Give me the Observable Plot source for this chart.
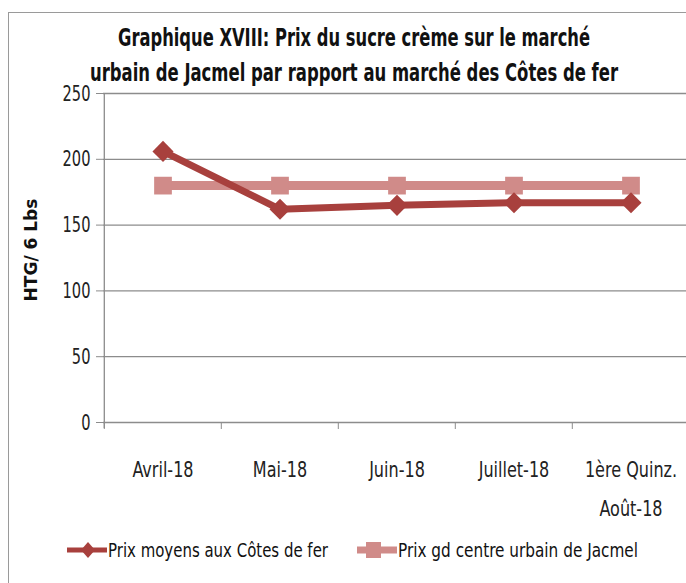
<!DOCTYPE html>
<html><head><meta charset="utf-8">
<script src="https://cdn.jsdelivr.net/npm/d3@7"></script>
<script src="https://cdn.jsdelivr.net/npm/@observablehq/plot@0.6"></script>
<style>
body{margin:0;background:#fff;}
#wrap{position:relative;width:686px;height:583px;overflow:hidden;font-family:"DejaVu Sans Condensed",sans-serif;}
#frame{position:absolute;left:8px;top:12px;width:700px;height:600px;border-left:1.5px solid #9a9a9a;border-top:1.5px solid #9a9a9a;}
.tline{position:absolute;left:354px;white-space:nowrap;font-size:24px;font-weight:bold;color:#111;transform-origin:0 50%;}
#chart{position:absolute;left:0;top:0;}
#ylab{position:absolute;left:31px;top:250px;transform:translate(-50%,-50%) rotate(-90deg);font-family:"DejaVu Sans",sans-serif;font-weight:bold;font-size:17px;white-space:nowrap;color:#111;}
.leg{position:absolute;top:539px;height:22px;display:flex;align-items:center;color:#111;}
.leg span{display:inline-block;font-size:20px;white-space:nowrap;transform-origin:0 50%;}
</style></head>
<body><div id="wrap"><div id="frame"></div><div id="chart"></div>
<div class="tline" id="t1" style="top:24px">Graphique XVIII: Prix du sucre crème sur le marché</div>
<div class="tline" id="t2" style="top:59px">urbain de Jacmel par rapport au marché des Côtes de fer</div>
<div id="ylab">HTG/ 6 Lbs</div>
<div class="leg" id="leg1" style="left:67px"></div>
<div class="leg" id="leg2" style="left:357px"></div>
</div>
<script>
const categories = ["Avril-18","Mai-18","Juin-18","Juillet-18","1ère Quinz.\nAoût-18"];
const cotesDeFer = [206, 162, 165, 167, 167];
const jacmel = [180, 180, 180, 180, 180];
const yTicks = [0, 50, 100, 150, 200, 250];
const seriesNames = ["Prix moyens aux Côtes de fer", "Prix gd centre urbain de Jacmel"];
const colors = ["#a8403d", "#d08b89"];

const dataA = categories.map((c,i)=>({cat:c, v:cotesDeFer[i]}));
const dataB = categories.map((c,i)=>({cat:c, v:jacmel[i]}));
const bw = (690 - 103) / categories.length;

const chart = Plot.plot({
  width: 686, height: 583,
  marginTop: 93, marginBottom: 161, marginLeft: 103, marginRight: 0,
  style: {fontFamily: "'DejaVu Sans Condensed',sans-serif", background: "transparent", overflow: "visible"},
  x: {type: "band", domain: categories, range: [103, 690], padding: 0},
  y: {domain: [0, 250]},
  marks: [
    Plot.ruleY(yTicks, {stroke: "#8c8c8c", strokeWidth: 1.3}),
    Plot.axisY({ticks: yTicks, tickSize: 7, tickPadding: 6, fontSize: 22, stroke: "#8c8c8c", color: "#222", label: null}),
    Plot.ruleX([categories[0]], {dx: -bw / 2, y1: 250, y2: -4.5, stroke: "#8c8c8c", strokeWidth: 1.3}),
    Plot.axisX({tickSize: 7, tickFormat: () => "", dx: -bw / 2, stroke: "#8c8c8c", label: null}),
    Plot.axisX({tickSize: 0, tickPadding: 27, fontSize: 21, lineHeight: 1.85, color: "#222", label: null}),
    Plot.line(dataB, {x: "cat", y: "v", stroke: colors[1], strokeWidth: 9, style: {filter: "drop-shadow(2px 3px 2px rgba(0,0,0,0.25))"}}),
    Plot.dot(dataB, {x: "cat", y: "v", symbol: "square", r: 10, fill: colors[1], stroke: "none"}),
    Plot.line(dataA, {x: "cat", y: "v", stroke: colors[0], strokeWidth: 7, style: {filter: "drop-shadow(2px 3px 2px rgba(0,0,0,0.25))"}}),
    Plot.dot(dataA, {x: "cat", y: "v", symbol: "diamond2", r: 9.5, fill: colors[0], stroke: "none"})
  ]
});
document.getElementById("chart").appendChild(chart);

// narrow the glyphs horizontally to mimic the condensed reference font
function squeeze(sel, sx){
  chart.querySelectorAll(sel).forEach(t => {
    const tr = t.getAttribute("transform") || "";
    t.setAttribute("transform", tr + ` scale(${sx},1)`);
  });
}
squeeze('g[aria-label="y-axis tick label"] text', 0.74);
squeeze('g[aria-label="x-axis tick label"] text', 0.85);

// title lines: compress to the reference widths and center at x=354
function fitLine(id, target){
  const el = document.getElementById(id);
  const w = el.getBoundingClientRect().width;
  const s = target / w;
  el.style.transform = `translateX(${-target/2}px) scaleX(${s})`;
}
fitLine("t1", 472); fitLine("t2", 528);

function swatch(color, kind){
  const ns = "http://www.w3.org/2000/svg";
  const s = document.createElementNS(ns, "svg");
  s.setAttribute("width", 40); s.setAttribute("height", 22);
  const l = document.createElementNS(ns, "line");
  l.setAttribute("x1", 0); l.setAttribute("x2", 40); l.setAttribute("y1", 11); l.setAttribute("y2", 11);
  l.setAttribute("stroke", color); l.setAttribute("stroke-width", kind === "square" ? 7 : 5);
  s.appendChild(l);
  if (kind === "square") {
    const r = document.createElementNS(ns, "rect");
    r.setAttribute("x", 9); r.setAttribute("y", 3); r.setAttribute("width", 15); r.setAttribute("height", 16);
    r.setAttribute("fill", color); s.appendChild(r);
  } else {
    const p = document.createElementNS(ns, "path");
    p.setAttribute("d", "M21,3 L28,11 L21,19 L14,11 Z");
    p.setAttribute("fill", color); s.appendChild(p);
  }
  return s;
}
function legend(id, color, kind, name, target){
  const el = document.getElementById(id);
  el.appendChild(swatch(color, kind));
  const sp = document.createElement("span");
  sp.textContent = name;
  el.appendChild(sp);
  const w = sp.getBoundingClientRect().width;
  sp.style.transform = `translateX(1px) scaleX(${target / w})`;
}
legend("leg1", colors[0], "diamond", seriesNames[0], 220);
legend("leg2", colors[1], "square", seriesNames[1], 240);
</script></body></html>
